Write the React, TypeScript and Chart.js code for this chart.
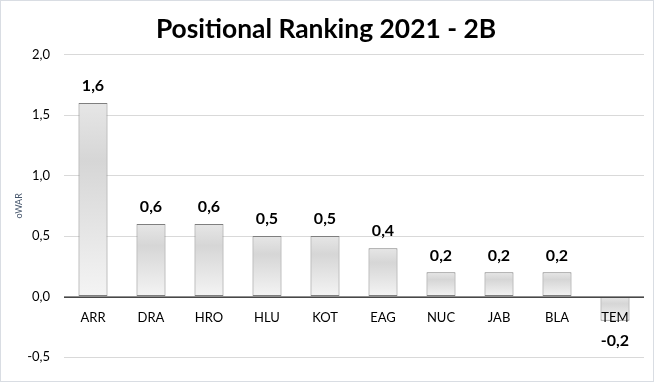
import React, { useEffect, useRef } from "react";
import { Chart, registerables } from "chart.js";

Chart.register(...registerables);

const categories = ["ARR", "DRA", "HRO", "HLU", "KOT", "EAG", "NUC", "JAB", "BLA", "TEM"];
const owar = [1.6, 0.6, 0.6, 0.5, 0.5, 0.4, 0.2, 0.2, 0.2, -0.2];
const yMin = -0.5;
const yMax = 2.0;
const yStep = 0.5;

const FONT = "Lato, 'Open Sans', sans-serif";
const fmt = (v: number) => v.toFixed(1).replace(".", ",");

const labelPlugin = {
  id: "barLabels",
  afterDraw(chart: any) {
    const ctx = chart.ctx;
    const meta = chart.getDatasetMeta(0);
    const y0 = chart.scales.y.getPixelForValue(0);
    const left = chart.chartArea.left;
    const right = chart.chartArea.right;
    ctx.save();
    ctx.fillStyle = "#474747";
    ctx.fillRect(left, Math.round(y0) - 0.5, right - left, 1.5);

    ctx.font = `bold 16px ${FONT}`;
    ctx.fillStyle = "#000";
    ctx.textAlign = "center";
    ctx.textBaseline = "middle";
    meta.data.forEach((bar: any, i: number) => {
      const v = owar[i];
      const y = v >= 0 ? bar.y - 17 : bar.y + 20;
      ctx.fillText(fmt(v), bar.x, y);
    });
    ctx.strokeStyle = "#d9dde3";
    ctx.lineWidth = 1;
    ctx.strokeRect(0.5, 0.5, 653, 381);
    ctx.restore();
  },
};

export default function App() {
  const ref = useRef<HTMLCanvasElement>(null);
  useEffect(() => {
    document.body.style.margin = "0";
    const chart = new Chart(ref.current!, {
      type: "bar",
      data: {
        labels: categories,
        datasets: [
          {
            data: owar,
            backgroundColor: (c: any) => {
              const ch = c.chart;
              const ys = ch.scales?.y;
              if (!ys || c.dataIndex === undefined) return "#e0e0e0";
              const v = owar[c.dataIndex];
              const top = ys.getPixelForValue(Math.max(v, 0));
              const bot = ys.getPixelForValue(Math.min(v, 0));
              if (!isFinite(top) || !isFinite(bot) || top === bot) return "#e0e0e0";
              const g = ch.ctx.createLinearGradient(0, top, 0, bot);
              g.addColorStop(0, "#e6e6e6");
              g.addColorStop(0.3, "#d6d6d6");
              g.addColorStop(1, "#f4f4f4");
              return g;
            },
            borderColor: "#7f7f7f",
            borderWidth: 1,
            borderSkipped: false,
            categoryPercentage: 0.5,
            barPercentage: 1,
          },
        ],
      },
      options: {
        animation: false,
        responsive: false,
        layout: { padding: { left: 8, right: 11, top: 0, bottom: 26 } },
        plugins: {
          legend: { display: false },
          tooltip: { enabled: false },
          title: {
            display: true,
            text: "Positional Ranking 2021 - 2B",
            color: "#000",
            font: { family: FONT, size: 26.4, weight: "bold" },
            padding: { top: 14, bottom: 9 },
          },
        },
        scales: {
          x: {
            position: { y: 0 } as any,
            grid: { display: false, drawTicks: false },
            border: { display: false },
            ticks: { color: "#000", font: { family: FONT, size: 13 }, padding: 13, z: 1 } as any,
          },
          y: {
            min: yMin,
            max: yMax,
            afterFit: (s: any) => { s.width = 56; },
            ticks: {
              stepSize: yStep,
              color: "#000",
              font: { family: FONT, size: 13 },
              padding: 14,
              callback: (v: any) => fmt(Number(v)),
            },
            grid: {
              drawTicks: false,
              color: "#d9d9d9",
              lineWidth: 1,
            },
            border: { display: false },
            title: {
              display: true,
              text: "oWAR",
              color: "#44546a",
              font: { family: FONT, size: 9 },
              padding: { top: 6, bottom: 0 },
            },
          },
        },
      },
      plugins: [labelPlugin],
    });
    return () => chart.destroy();
  }, []);
  return (
    <div style={{ position: "absolute", left: 0, top: 0, width: 655, height: 383, background: "#fff" }}>
      <canvas ref={ref} width={655} height={383} style={{ width: 655, height: 383 }} />
    </div>
  );
}
